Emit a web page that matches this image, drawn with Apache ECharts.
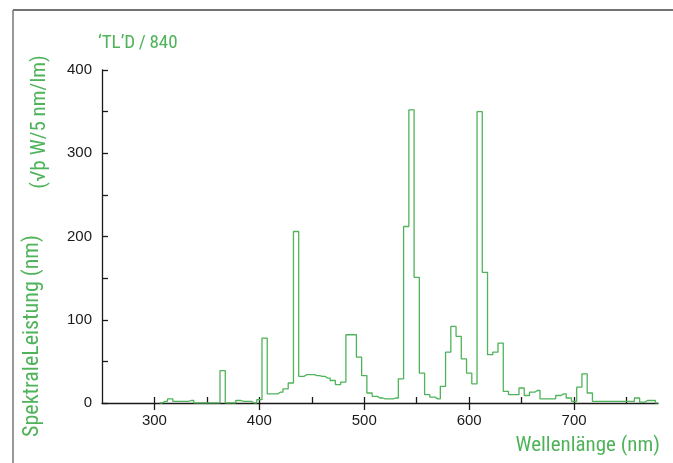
<!DOCTYPE html>
<html>
<head>
<meta charset="utf-8">
<script src="https://cdn.jsdelivr.net/npm/echarts@6/dist/echarts.min.js"></script>
<style>html,body{margin:0;padding:0;background:#fff}#c{width:673px;height:463px}</style>
</head>
<body>
<div id="c"></div>
<script>
// Data: spectral power per 5 nm bin (bin centres in nm)
const wavelengths = [305,310,315,320,325,330,335,340,345,350,355,360,365,370,375,380,385,390,395,400,
  405,410,415,420,425,430,435,440,445,450,455,460,465,470,475,480,485,490,495,500,
  505,510,515,520,525,530,535,540,545,550,555,560,565,570,575,580,585,590,595,600,
  605,610,615,620,625,630,635,640,645,650,655,660,665,670,675,680,685,690,695,700,
  705,710,715,720,725,730,735,740,745,750,755,760,765,770,775,780];
const power = [0,2,5,2,2,2,3,0,0,0,0,0,39,0,0,3,2,2,0,4,
  78,11,11,13,17,24,206,32,34,34,33,32,30,27,22,25,82,82,55,33,
  12,8,6,5,5,6,29,212,352,151,36,10,7,5,20,61,92,80,53,36,
  23,350,157,58,61,72,14,10,10,18,9,13,15,5,5,5,9,11,6,2,
  19,35,12,2,2,2,2,2,2,2,2,6,1,3,3,0];
const xMajorTicks = [300,400,500,600,700];
const xAllTicks = [300,350,400,450,500,550,600,650,700,750];
const yLabels = [0,100,200,300,400];
const yAllTicks = [0,50,100,150,200,250,300,350,400];
const titleText = '‘TL’D\u2009/\u2009840';
const xName = 'Wellenlänge (nm)';
const yName1 = 'SpektraleLeistung (nm)';
const yName2 = '(√þ W/5 nm/lm)';

const GREEN = '#4fb35a';
const NARROW = "'Liberation Sans Narrow', 'Roboto Condensed', Roboto, sans-serif";
const REG = "'Liberation Sans', Arial, sans-serif";

const chart = echarts.init(document.getElementById('c'));
const axisLineStyle = {color: '#1a1a1a', width: 1.3};
chart.setOption({
  animation: false,
  backgroundColor: '#fff',
  title: {
    text: titleText, left: 93, top: 29,
    textStyle: {color: GREEN, fontFamily: NARROW, fontSize: 19, fontWeight: 'normal'}
  },
  grid: {left: 102, right: 15, top: 70, bottom: 60},
  xAxis: [{
    type: 'value', min: 250, max: 780, position: 'bottom',
    axisLine: {show: true, lineStyle: axisLineStyle, onZero: false},
    axisTick: {show: true, inside: true, length: 6, lineStyle: axisLineStyle, customValues: xAllTicks},
    axisLabel: {show: true, margin: 10, color: '#1a1a1a', fontFamily: REG, fontSize: 15, customValues: xMajorTicks},
    splitLine: {show: false}
  }, {
    type: 'value', min: 250, max: 780, position: 'bottom', offset: 0,
    axisLine: {show: false},
    axisTick: {show: true, inside: false, length: 7, lineStyle: axisLineStyle, customValues: xMajorTicks},
    axisLabel: {show: false},
    splitLine: {show: false}
  }],
  yAxis: {
    type: 'value', min: 0, max: 400,
    axisLine: {show: true, lineStyle: axisLineStyle, onZero: false},
    axisTick: {show: true, inside: true, length: 6, lineStyle: axisLineStyle, customValues: yAllTicks},
    axisLabel: {show: true, margin: 10, color: '#1a1a1a', fontFamily: REG, fontSize: 15, customValues: yLabels},
    splitLine: {show: false}
  },
  series: [{
    type: 'line', step: 'middle', xAxisIndex: 0, showSymbol: false, symbol: 'none',
    data: wavelengths.map((w, i) => [w, power[i]]),
    lineStyle: {color: GREEN, width: 1.3}
  }],
  graphic: [
    {type: 'line', shape: {x1: 13, y1: 10, x2: 673, y2: 10}, style: {stroke: '#444', lineWidth: 1.5}},
    {type: 'line', shape: {x1: 13, y1: 10, x2: 13, y2: 463}, style: {stroke: '#777', lineWidth: 1.5}},
    {type: 'text', x: 660, y: 446, style: {text: xName, fill: GREEN, font: '21px ' + NARROW, textAlign: 'right', textVerticalAlign: 'middle'}},
    {type: 'text', x: 32, y: 336, rotation: Math.PI / 2, style: {text: yName1, fill: GREEN, font: '22px ' + NARROW, textAlign: 'center', textVerticalAlign: 'middle'}},
    {type: 'text', x: 40, y: 122, rotation: Math.PI / 2, style: {text: yName2, fill: GREEN, font: '21px ' + NARROW, textAlign: 'center', textVerticalAlign: 'middle'}}
  ]
});
</script>
</body>
</html>
